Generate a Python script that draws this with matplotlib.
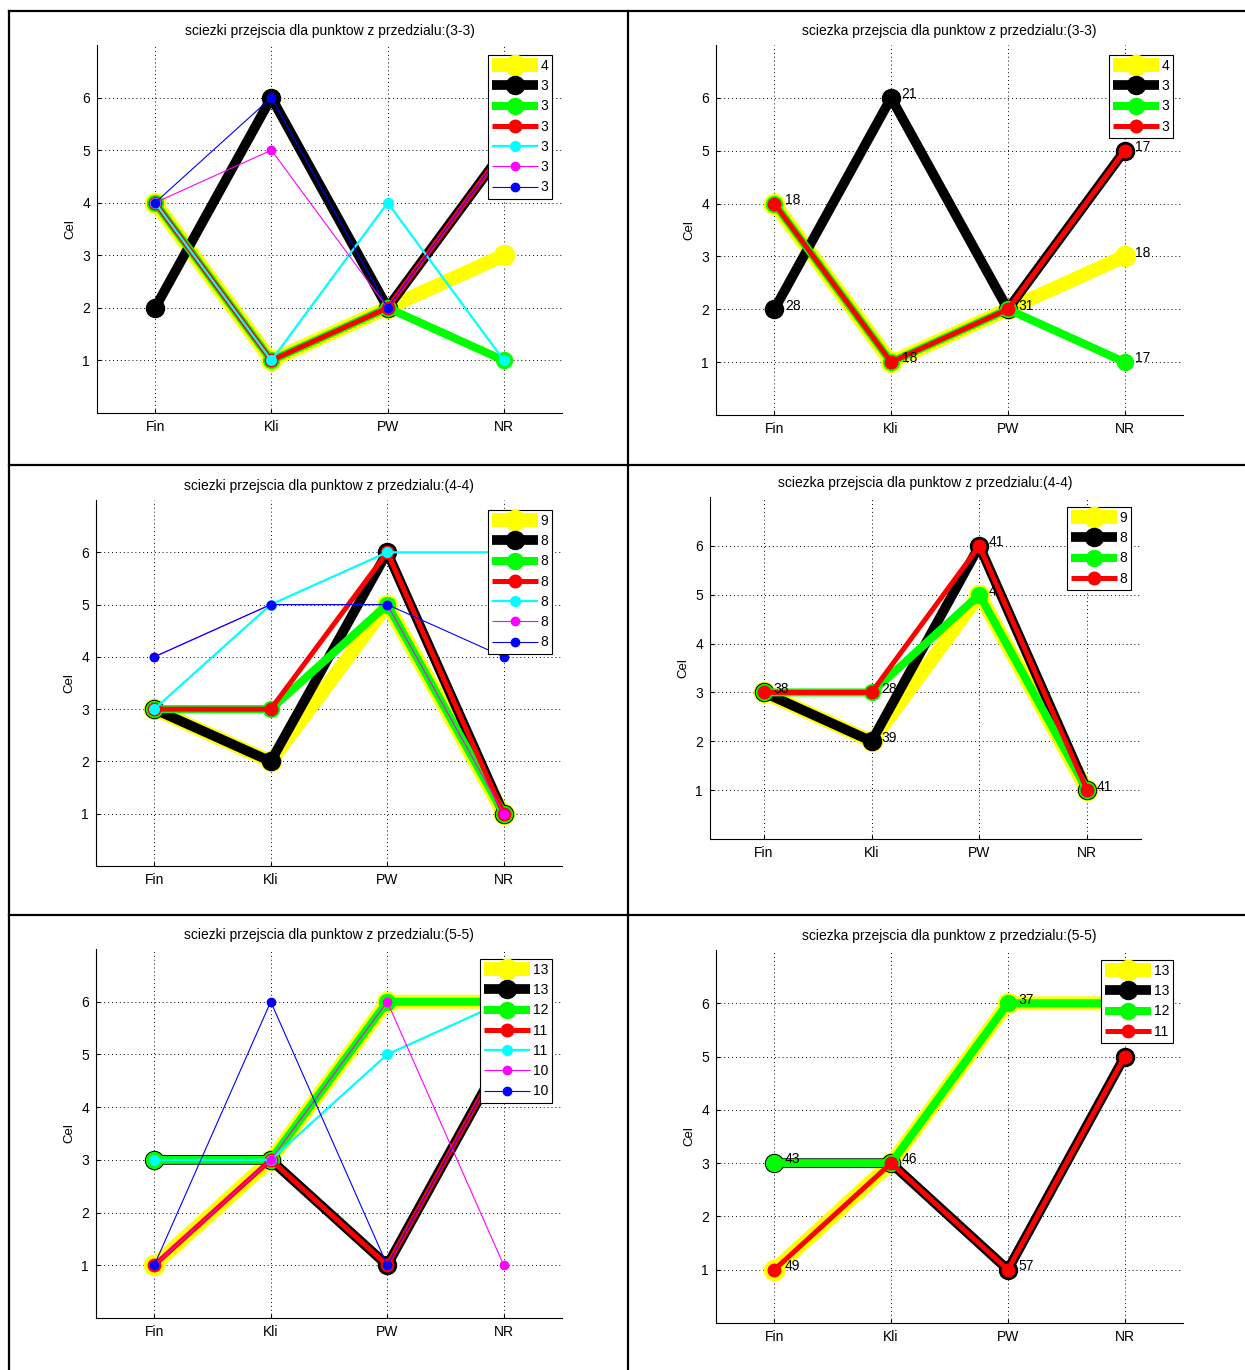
import matplotlib
matplotlib.use('Agg')
import matplotlib.pyplot as plt
from matplotlib.lines import Line2D

categories = ['Fin', 'Kli', 'PW', 'NR']

# colour, width and marker size of each path (widest path is drawn first)
colors = ['#ffff00', '#000000', '#00ff00', '#ff0000', '#00ffff', '#ff00ff', '#0000ff']
widths = [10, 7, 5.8, 3.6, 1.6, 0.8, 0.8]
msizes = [14.5, 13, 11.5, 9, 7, 6, 6]

# przedzial (3-3)
paths_33 = [[4, 1, 2, 3], [2, 6, 2, 5], [4, 1, 2, 1], [4, 1, 2, 5],
            [4, 1, 4, 1], [4, 5, 2, 5], [4, 6, 2, 5]]
counts_33 = [4, 3, 3, 3, 3, 3, 3]
pt_x_33 = [1, 1, 2, 2, 3, 4, 4, 4]
pt_y_33 = [4, 2, 6, 1, 2, 5, 3, 1]
pt_n_33 = [18, 28, 21, 18, 31, 17, 18, 17]

# przedzial (4-4)
paths_44 = [[3, 2, 5, 1], [3, 2, 6, 1], [3, 3, 5, 1], [3, 3, 6, 1],
            [3, 5, 6, 6], [4, 5, 5, 1], [4, 5, 5, 4]]
counts_44 = [9, 8, 8, 8, 8, 8, 8]
pt_x_44 = [1, 2, 2, 3, 3, 4]
pt_y_44 = [3, 3, 2, 6, 5, 1]
pt_n_44 = [38, 28, 39, 41, 4, 41]

# przedzial (5-5)
paths_55 = [[1, 3, 6, 6], [3, 3, 1, 5], [3, 3, 6, 6], [1, 3, 1, 5],
            [3, 3, 5, 6], [1, 3, 6, 1], [1, 6, 1, 5]]
counts_55 = [13, 13, 12, 11, 11, 10, 10]
pt_x_55 = [1, 1, 2, 3, 3]
pt_y_55 = [3, 1, 3, 6, 1]
pt_n_55 = [43, 49, 46, 37, 57]

W, H = 1245, 1370
fig = plt.figure(figsize=(W / 100, H / 100), dpi=100)
plt.rcParams['font.family'] = ['Liberation Sans', 'DejaVu Sans']


def add_ax(left, top, right, bottom):
    return fig.add_axes([left / W, 1 - bottom / H, (right - left) / W, (bottom - top) / H])


def plot_panel(ax, title, paths, counts, n, pt_x=None, pt_y=None, pt_n=None):
    x = range(1, len(categories) + 1)
    handles = []
    for i in range(n):
        h, = ax.plot(x, paths[i], '-o', color=colors[i], mfc=colors[i], mec=colors[i],
                     lw=widths[i], ms=msizes[i], zorder=2 + i,
                     solid_joinstyle='round', solid_capstyle='butt')
        handles.append(h)
    # number of points next to each node
    if pt_x is not None:
        for px, py, pn in zip(pt_x, pt_y, pt_n):
            ax.text(px + 0.09, py + 0.07, str(pn), fontsize=10, va='center',
                    ha='left', zorder=15)

    ax.set_xlim(0.5, 4.5)
    ax.set_ylim(0, 7)
    ax.set_xticks(list(x))
    ax.set_xticklabels(categories)
    ax.set_yticks(range(1, 7))
    ax.set_ylabel('Cel', fontsize=9.5)
    ax.set_title(title, fontsize=10, pad=7)
    ax.grid(True, linestyle=(0, (1, 3)), color='k', lw=0.7)
    ax.set_axisbelow(True)
    ax.spines[['top', 'right']].set_visible(False)
    ax.tick_params(direction='in', length=3, labelsize=10, pad=5)

    leg = ax.legend(handles, [str(c) for c in counts[:n]], loc='upper right',
                    bbox_to_anchor=(1, 1), borderaxespad=0.7, numpoints=1,
                    fontsize=10, handlelength=3.3, handletextpad=0.2,
                    labelspacing=0.45, borderpad=0.3, fancybox=False,
                    framealpha=1, edgecolor='k')
    leg.get_frame().set_linewidth(0.8)
    leg.set_zorder(20)


ax = add_ax(97, 45, 562, 413)
plot_panel(ax, 'sciezki przejscia dla punktow z przedzialu:(3-3)', paths_33, counts_33, 7)
ax = add_ax(716, 45, 1183, 415)
plot_panel(ax, 'sciezka przejscia dla punktow z przedzialu:(3-3)', paths_33, counts_33, 4,
           pt_x_33, pt_y_33, pt_n_33)

ax = add_ax(96, 500, 562, 866)
plot_panel(ax, 'sciezki przejscia dla punktow z przedzialu:(4-4)', paths_44, counts_44, 7)
ax = add_ax(710, 497, 1141, 839)
plot_panel(ax, 'sciezka przejscia dla punktow z przedzialu:(4-4)', paths_44, counts_44, 4,
           pt_x_44, pt_y_44, pt_n_44)

ax = add_ax(96, 949, 562, 1318)
plot_panel(ax, 'sciezki przejscia dla punktow z przedzialu:(5-5)', paths_55, counts_55, 7)
ax = add_ax(716, 950, 1183, 1323)
plot_panel(ax, 'sciezka przejscia dla punktow z przedzialu:(5-5)', paths_55, counts_55, 4,
           pt_x_55, pt_y_55, pt_n_55)

# table frame around the six panels
for xs, ys in [([9, 9], [11, H]), ([628, 628], [11, H]), ([9, W], [11, 11]),
               ([9, W], [465, 465]), ([9, W], [915, 915])]:
    fig.add_artist(Line2D([v / W for v in xs], [1 - v / H for v in ys],
                          transform=fig.transFigure, color='k', lw=1.6))

fig.savefig('out.png', dpi=100, facecolor='white')
